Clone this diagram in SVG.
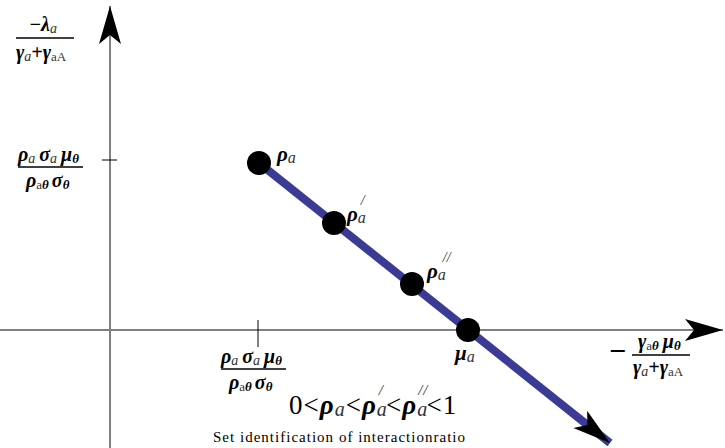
<svg xmlns="http://www.w3.org/2000/svg" width="725" height="448" viewBox="0 0 725 448" font-family="'Liberation Serif','Times New Roman',serif">
<style>
text{font-family:"Liberation Serif","Times New Roman",serif;fill:#000}
tspan.g{font-weight:bold;font-style:italic}
tspan.s{font-style:italic;font-weight:normal;fill:#333}
tspan.r{font-weight:normal;font-style:normal;fill:#333}
.axis{stroke:#808080;stroke-width:2;fill:none}
.tick{stroke:#000;stroke-width:1}
.bar{stroke:#000;stroke-width:1.3}
.dot{fill:#000}
</style>
<defs>
<marker id="ah" markerUnits="userSpaceOnUse" markerWidth="40" markerHeight="24" refX="38" refY="12" orient="auto" viewBox="0 0 40 24">
<path d="M0,1 L38,12 L0,23 L9,12 Z" fill="#000"/>
</marker>
</defs>
<g id="connectors">
<line class="axis" x1="110" y1="448" x2="110" y2="6" marker-end="url(#ah)"/>
<line class="axis" x1="0" y1="330" x2="723" y2="330" marker-end="url(#ah)"/>
<line class="tick" x1="102" y1="160" x2="117" y2="160"/>
<line class="tick" x1="258" y1="320" x2="258" y2="347"/>
<line x1="259" y1="163" x2="610" y2="443" stroke="#3b3b96" stroke-width="8" marker-end="url(#ah)"/>
</g>
<g id="ylabel">
<text x="29" y="31" style="font-size:20px"><tspan class="g">−λ</tspan><tspan class="s" dy="2" style="font-size:14px">a</tspan></text>
<line class="bar" x1="16" y1="38" x2="74" y2="38"/>
<text x="16" y="59" style="font-size:20px"><tspan class="g">γ</tspan><tspan class="s" dy="2" style="font-size:14px">a</tspan><tspan class="g" dy="-2">+γ</tspan><tspan class="r" dy="2" style="font-size:13px">aA</tspan></text>
</g>
<g id="ytick-label">
<text x="18" y="161" style="font-size:20px"><tspan class="g">ρ</tspan><tspan class="s" dy="2" style="font-size:14px">a</tspan><tspan class="g" dx="4" dy="-2">σ</tspan><tspan class="s" dy="2" style="font-size:14px">a</tspan><tspan class="g" dx="4" dy="-2">μ</tspan><tspan class="g" dy="2" style="font-size:13px">θ</tspan></text>
<line class="bar" x1="18" y1="167" x2="83" y2="167"/>
<text x="26" y="187" style="font-size:20px"><tspan class="g">ρ</tspan><tspan class="r" dy="2" style="font-size:13px">a</tspan><tspan class="g" style="font-size:13px">θ</tspan><tspan class="g" dx="3" dy="-2">σ</tspan><tspan class="g" dy="2" style="font-size:13px">θ</tspan></text>
</g>
<g id="xtick-label">
<text x="221" y="363" style="font-size:20px"><tspan class="g">ρ</tspan><tspan class="s" dy="2" style="font-size:14px">a</tspan><tspan class="g" dx="4" dy="-2">σ</tspan><tspan class="s" dy="2" style="font-size:14px">a</tspan><tspan class="g" dx="4" dy="-2">μ</tspan><tspan class="g" dy="2" style="font-size:13px">θ</tspan></text>
<line class="bar" x1="221" y1="369" x2="286" y2="369"/>
<text x="229" y="389" style="font-size:20px"><tspan class="g">ρ</tspan><tspan class="r" dy="2" style="font-size:13px">a</tspan><tspan class="g" style="font-size:13px">θ</tspan><tspan class="g" dx="3" dy="-2">σ</tspan><tspan class="g" dy="2" style="font-size:13px">θ</tspan></text>
</g>
<g id="xlabel">
<text x="609" y="361" style="font-size:30px;font-weight:bold">−</text>
<text x="638" y="348" style="font-size:20px"><tspan class="g">γ</tspan><tspan class="r" dy="2" style="font-size:13px">a</tspan><tspan class="g" style="font-size:13px">θ</tspan><tspan class="g" dx="4" dy="-2">μ</tspan><tspan class="g" dy="2" style="font-size:13px">θ</tspan></text>
<line class="bar" x1="632" y1="355" x2="690" y2="355"/>
<text x="633" y="374" style="font-size:20px"><tspan class="g">γ</tspan><tspan class="s" dy="2" style="font-size:14px">a</tspan><tspan class="g" dy="-2">+γ</tspan><tspan class="r" dy="2" style="font-size:13px">aA</tspan></text>
</g>
<g id="p1">
<circle class="dot" cx="259" cy="163" r="12"/>
<text x="277" y="161" style="font-size:21px"><tspan class="g">ρ</tspan><tspan class="s" dy="2" style="font-size:16px">a</tspan></text>
</g>
<g id="p2">
<circle class="dot" cx="334" cy="223" r="12"/>
<text x="347" y="221" style="font-size:21px"><tspan class="g">ρ</tspan><tspan class="s" dy="2" style="font-size:16px">a</tspan><tspan class="s" dx="-5" dy="-18" style="font-size:14px">/</tspan></text>
</g>
<g id="p3">
<circle class="dot" cx="412" cy="284" r="12"/>
<text x="427" y="278" style="font-size:21px"><tspan class="g">ρ</tspan><tspan class="s" dy="2" style="font-size:16px">a</tspan><tspan class="s" dx="-3" dy="-18" style="font-size:14px">//</tspan></text>
</g>
<g id="p4">
<circle class="dot" cx="468" cy="330" r="12"/>
<text x="455" y="360" style="font-size:21px"><tspan class="g">μ</tspan><tspan class="s" dy="2" style="font-size:16px">a</tspan></text>
</g>
<g id="caption">
<text x="289" y="414" style="font-size:27px;letter-spacing:1px">0&lt;<tspan class="g">ρ</tspan><tspan class="s" dy="2" style="font-size:20px">a</tspan><tspan dy="-2">&lt;</tspan><tspan class="g">ρ</tspan><tspan class="s" dy="2" style="font-size:20px">a</tspan><tspan class="s" dx="-9" dy="-21" style="font-size:15px">/</tspan><tspan dx="2" dy="19">&lt;</tspan><tspan class="g">ρ</tspan><tspan class="s" dy="2" style="font-size:20px">a</tspan><tspan class="s" dx="-10" dy="-21" style="font-size:15px">//</tspan><tspan dx="-2" dy="19">&lt;1</tspan></text>
<text x="213" y="442" style="font-size:15px" textLength="252" lengthAdjust="spacing">Set identification of interactionratio</text>
</g>
</svg>
